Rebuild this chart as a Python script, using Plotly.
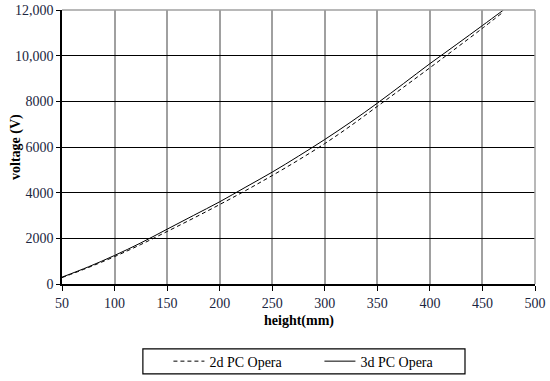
import plotly.graph_objects as go

height_mm = [50, 75, 100, 125, 150, 175, 200, 225, 250, 275, 300, 325, 350, 375, 400, 425, 450, 470]
volt_2d = [280, 720, 1200, 1730, 2300, 2880, 3480, 4100, 4750, 5430, 6150, 6940, 7780, 8620, 9470, 10330, 11200, 11920]
volt_3d = [300, 750, 1250, 1800, 2400, 3000, 3600, 4250, 4900, 5600, 6330, 7100, 7920, 8780, 9650, 10480, 11320, 12000]

y_ticks = [0, 2000, 4000, 6000, 8000, 10000, 12000]
y_labels = ['0', '2000', '4000', '6000', '8000', '10,000', '12,000']
x_ticks = [50, 100, 150, 200, 250, 300, 350, 400, 450, 500]

fig = go.Figure()

fig.add_trace(go.Scatter(
    x=height_mm, y=volt_2d, name='2d PC Opera', mode='lines',
    line=dict(color='black', width=1, dash='4px,3px', shape='spline')
))
fig.add_trace(go.Scatter(
    x=height_mm, y=volt_3d, name='3d PC Opera', mode='lines',
    line=dict(color='black', width=1, shape='spline')
))

# grey plot-area border on top and right
fig.add_shape(type='line', xref='paper', yref='paper', x0=0, x1=1, y0=1, y1=1,
              line=dict(color='#a0a0a0', width=1.5), layer='above')
fig.add_shape(type='line', xref='paper', yref='paper', x0=1, x1=1, y0=0, y1=1,
              line=dict(color='#a0a0a0', width=1.5), layer='above')
# legend frame
fig.add_shape(type='rect', xref='paper', yref='paper', x0=0.171, x1=0.852, y0=-0.328, y1=-0.237,
              line=dict(color='black', width=1.2), layer='above')

# axis titles as annotations so margins stay fixed
fig.add_annotation(text='<b>height(mm)</b>', xref='paper', yref='paper',
                   x=0.5, y=0, yshift=-37, showarrow=False,
                   font=dict(size=14), xanchor='center', yanchor='middle')
fig.add_annotation(text='<b>voltage (V)</b>', xref='paper', yref='paper',
                   x=0, y=0.5, xshift=-46, showarrow=False, textangle=-90,
                   font=dict(size=14), xanchor='center', yanchor='middle')

fig.update_layout(
    width=550, height=381,
    paper_bgcolor='white', plot_bgcolor='white',
    font=dict(family='Liberation Serif', color='black', size=12),
    margin=dict(l=62, r=15, t=10, b=97, autoexpand=False),
    showlegend=True,
    legend=dict(
        orientation='h', x=0.225, xanchor='left', y=-0.283, yanchor='middle',
        borderwidth=0, bgcolor='rgba(0,0,0,0)', font=dict(size=14),
        itemwidth=31, entrywidth=105,
    ),
    xaxis=dict(
        range=[50, 500], tickvals=x_ticks, automargin=False, ticklabeloverflow='allow',
        showgrid=True, gridcolor='#a0a0a0', gridwidth=1.5,
        showline=True, linecolor='black', linewidth=1.5,
        ticks='outside', ticklen=5, tickcolor='black', zeroline=False,
        tickfont=dict(size=14, color='#1a2540'),
    ),
    yaxis=dict(
        range=[0, 12000], tickvals=y_ticks, ticktext=y_labels, automargin=False,
        ticklabeloverflow='allow',
        showgrid=True, gridcolor='black', gridwidth=1,
        showline=True, linecolor='black', linewidth=1.5,
        ticks='outside', ticklen=4, tickcolor='black', zeroline=False,
        tickfont=dict(size=14, color='#1a2540'),
    ),
)

# drop the default body margin so the figure sits at the page origin
fig.write_html('out.html', config={'displayModeBar': False},
               post_script="document.body.style.margin='0';")
